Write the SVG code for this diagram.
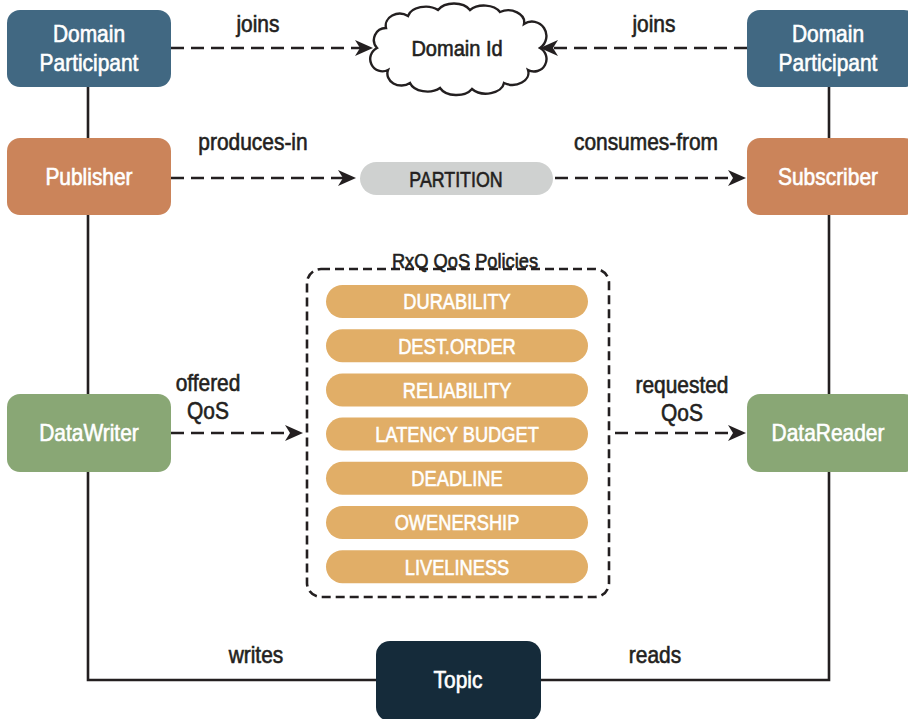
<svg xmlns="http://www.w3.org/2000/svg" width="908" height="719" viewBox="0 0 908 719">
<defs>
<style>
text { font-family: "Liberation Sans", Arial, sans-serif; text-anchor: middle; transform-box: fill-box; transform-origin: center; stroke-width: 0.6px; paint-order: stroke; }
.nl { font-size: 23px; fill: #ffffff; stroke: #ffffff; transform: scaleX(0.91); }
.lb { font-size: 23px; fill: #231f20; stroke: #231f20; transform: scaleX(0.91); }
.pl { font-size: 22px; fill: #ffffff; stroke: #ffffff; transform: scaleX(0.83); }
.pt { font-size: 22px; fill: #231f20; stroke: #231f20; transform: scaleX(0.81); }
.ti { font-size: 21px; fill: #231f20; stroke: #231f20; transform: scaleX(0.87); }
.solid { fill: none; stroke: #231f20; stroke-width: 2.6; }
.dash { fill: none; stroke: #231f20; stroke-width: 2.6; stroke-dasharray: 13 7; marker-end: url(#ah); }
.dp { fill: #416882; }
.pub { fill: #cb845a; }
.dw { fill: #89a775; }
.top { fill: #152b3a; }
.pol { fill: #e1ae67; }
</style>
<marker id="ah" viewBox="0 0 18 18" refX="12" refY="9" markerWidth="18" markerHeight="18" markerUnits="userSpaceOnUse" orient="auto">
<path d="M0,1 L18,9 L0,17 L5,9 Z" fill="#231f20" stroke="none"/>
</marker>
</defs>
<rect width="908" height="719" fill="#ffffff"/>

<g id="connectors">
<path class="solid" d="M88,87 V680 H376"/>
<path class="solid" d="M829,87 V680 H541"/>
<path class="dash" d="M171,48 H367"/>
<path class="dash" d="M747,48 H546"/>
<path class="dash" d="M171,178 H350"/>
<path class="dash" d="M555,178 H740"/>
<path class="dash" d="M171,433 H297"/>
<path class="dash" d="M615,433 H740"/>
<text class="lb" x="258" y="32">joins</text>
<text class="lb" x="654" y="32">joins</text>
<text class="lb" x="253" y="150">produces-in</text>
<text class="lb" x="646" y="150">consumes-from</text>
<text class="lb" x="208" y="391">offered</text>
<text class="lb" x="208" y="419">QoS</text>
<text class="lb" x="682" y="393">requested</text>
<text class="lb" x="682" y="421">QoS</text>
<text class="lb" x="256" y="663">writes</text>
<text class="lb" x="655" y="663">reads</text>
</g>

<g id="dp-left">
<rect class="dp" x="7" y="10" width="164" height="77" rx="13"/>
<text class="nl" x="89" y="42">Domain</text>
<text class="nl" x="89" y="71">Participant</text>
</g>
<g id="dp-right">
<rect class="dp" x="747" y="10" width="170" height="77" rx="13"/>
<text class="nl" x="828" y="42">Domain</text>
<text class="nl" x="828" y="71">Participant</text>
</g>
<g id="domain-id">
<path d="M377,48 A12,12 0 0 1 386,28 A14,12 0 0 1 408,16 A18,12 0 0 1 438,10 A18,12 0 0 1 470,10 A18,12 0 0 1 500,12 A16,12 0 0 1 524,24 A12,12 0 0 1 540,48 A12,12 0 0 1 528,70 A16,12 0 0 1 504,83 A18,12 0 0 1 472,89 A18,12 0 0 1 440,88 A18,12 0 0 1 410,83 A14,12 0 0 1 388,70 A12,12 0 0 1 377,48 Z" fill="#ffffff" stroke="#231f20" stroke-width="2.4"/>
<text class="lb" x="457" y="56" style="font-size:22px">Domain Id</text>
</g>
<g id="publisher">
<rect class="pub" x="7" y="138" width="164" height="77" rx="13"/>
<text class="nl" x="89" y="185">Publisher</text>
</g>
<g id="subscriber">
<rect class="pub" x="747" y="138" width="170" height="77" rx="13"/>
<text class="nl" x="828" y="185">Subscriber</text>
</g>
<g id="partition">
<rect x="360" y="162" width="193" height="33" rx="16.5" fill="#cfd1d0"/>
<text class="pt" x="456" y="187">PARTITION</text>
</g>
<g id="datawriter">
<rect class="dw" x="7" y="394" width="164" height="78" rx="13"/>
<text class="nl" x="89" y="441">DataWriter</text>
</g>
<g id="datareader">
<rect class="dw" x="747" y="394" width="170" height="78" rx="13"/>
<text class="nl" x="828" y="441">DataReader</text>
</g>
<g id="qos-policies">
<rect x="307" y="269" width="302" height="328" rx="14" fill="none" stroke="#231f20" stroke-width="2.6" stroke-dasharray="9 5"/>
<text class="ti" x="465" y="268">RxQ QoS Policies</text>
<rect class="pol" x="326" y="285" width="262" height="33" rx="16.5"/>
<text class="pl" x="457" y="309.5">DURABILITY</text>
<rect class="pol" x="326" y="329.2" width="262" height="33" rx="16.5"/>
<text class="pl" x="457" y="353.7">DEST.ORDER</text>
<rect class="pol" x="326" y="373.4" width="262" height="33" rx="16.5"/>
<text class="pl" x="457" y="397.9">RELIABILITY</text>
<rect class="pol" x="326" y="417.6" width="262" height="33" rx="16.5"/>
<text class="pl" x="457" y="442.1">LATENCY BUDGET</text>
<rect class="pol" x="326" y="461.8" width="262" height="33" rx="16.5"/>
<text class="pl" x="457" y="486.3">DEADLINE</text>
<rect class="pol" x="326" y="506" width="262" height="33" rx="16.5"/>
<text class="pl" x="457" y="530.5">OWENERSHIP</text>
<rect class="pol" x="326" y="550.2" width="262" height="33" rx="16.5"/>
<text class="pl" x="457" y="574.7">LIVELINESS</text>
</g>
<g id="topic">
<rect class="top" x="376" y="641" width="165" height="80" rx="14"/>
<text class="nl" x="458" y="688">Topic</text>
</g>
</svg>
